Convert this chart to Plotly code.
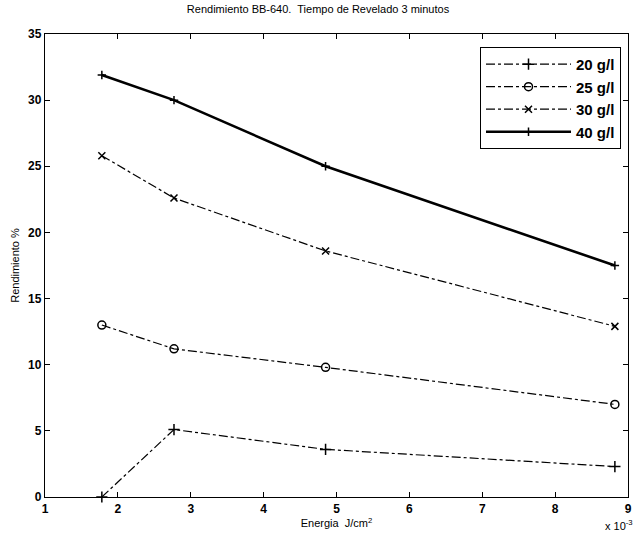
import plotly.graph_objects as go

# Energy values in units of 1e-3 J/cm^2
energia = [1.78, 2.77, 4.85, 8.82]
rend_20 = [0.0, 5.1, 3.6, 2.3]
rend_25 = [13.0, 11.2, 9.8, 7.0]
rend_30 = [25.8, 22.6, 18.6, 12.9]
rend_40 = [31.9, 30.0, 25.0, 17.5]
labels = ["20 g/l", "25 g/l", "30 g/l", "40 g/l"]
x_ticks = [1, 2, 3, 4, 5, 6, 7, 8, 9]
y_ticks = [0, 5, 10, 15, 20, 25, 30, 35]

FONT = "Liberation Sans, Arial, sans-serif"

fig = go.Figure()
series = [
    (rend_20, labels[0], "cross-thin-open", "dashdot", 1.2, 8),
    (rend_25, labels[1], "circle-open", "dashdot", 1.2, 8),
    (rend_30, labels[2], "x-thin-open", "dashdot", 1.2, 7),
    (rend_40, labels[3], "cross-thin-open", "solid", 2.6, 6),
]
for ys, name, sym, dash, w, sz in series:
    fig.add_trace(go.Scatter(
        x=energia, y=ys, name=name, mode="lines+markers",
        line=dict(color="black", width=w, dash=dash),
        marker=dict(symbol=sym, size=sz, color="black",
                    line=dict(color="black", width=1.5)),
        cliponaxis=False,
    ))

axis_common = dict(
    showgrid=False, zeroline=False, showline=True, linecolor="black",
    linewidth=1.3, mirror="ticks", ticks="inside", ticklen=5,
    tickcolor="black", automargin=False,
    tickfont=dict(family=FONT, size=12, color="black", weight="bold"),
)
fig.update_xaxes(range=[1, 9], tickvals=x_ticks,
                 ticktext=[str(v) for v in x_ticks],
                 title=dict(text="Energia  J/cm<sup>2</sup>", standoff=2,
                            font=dict(family=FONT, size=11, color="black")),
                 **axis_common)
fig.update_yaxes(range=[0, 35], tickvals=y_ticks,
                 ticktext=[str(v) for v in y_ticks],
                 title=dict(text="Rendimiento %", standoff=6,
                            font=dict(family=FONT, size=11, color="black")),
                 **axis_common)

fig.add_annotation(text="x 10<sup>-3</sup>", xref="paper", yref="paper",
                   x=0.985, y=-0.042, xanchor="center", yanchor="top",
                   showarrow=False,
                   font=dict(family=FONT, size=11, color="black"))

fig.update_layout(
    width=636, height=536,
    margin=dict(l=45, r=8, t=34, b=39),
    paper_bgcolor="white", plot_bgcolor="white",
    title=dict(text="Rendimiento BB-640.  Tiempo de Revelado 3 minutos",
               x=0.5, xanchor="center", y=0.99, yanchor="top",
               font=dict(family=FONT, size=11, color="black")),
    legend=dict(x=0.988, y=0.972, xanchor="right", yanchor="top",
                bordercolor="black", borderwidth=1, bgcolor="white",
                font=dict(family=FONT, size=15, color="black", weight="bold"),
                itemwidth=85, tracegroupgap=0),
    showlegend=True,
)

fig.write_html("out.html", config={"displayModeBar": False},
               post_script="document.body.style.margin='0';document.body.style.overflow='hidden';")
